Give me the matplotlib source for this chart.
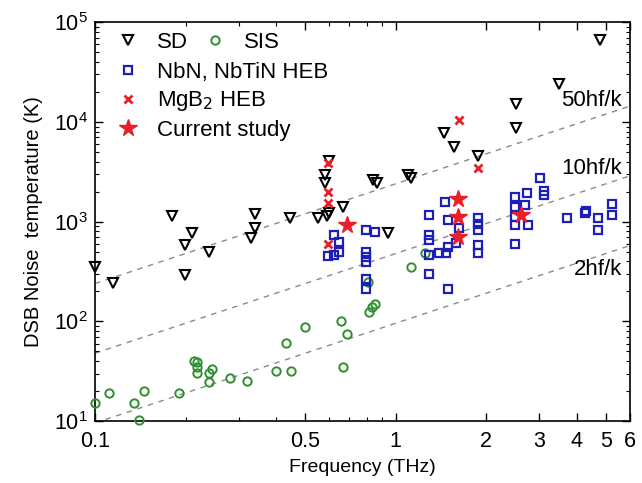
import numpy as np
import matplotlib.pyplot as plt
from matplotlib.lines import Line2D
from matplotlib.ticker import FixedLocator, NullFormatter, LogLocator

plt.rcParams['font.family'] = ['Liberation Sans', 'DejaVu Sans']

# SD
sd_f = [0.1, 0.115, 0.18, 0.199, 0.21, 0.199, 0.24, 0.34, 0.34, 0.329, 0.445, 0.552,
        0.589, 0.599, 0.666, 0.58, 0.58, 0.6, 0.94, 0.841, 0.867, 1.099, 1.12,
        1.447, 1.563, 1.88, 2.52, 2.52, 3.49, 4.76]
sd_t = [353, 244, 1138, 583, 774, 292, 499, 1191, 857, 690, 1079, 1079,
        1138, 1211, 1390, 2931, 2420, 4100, 770, 2612, 2450, 2931, 2716,
        7780, 5630, 4540, 15300, 8730, 23900, 66000]

# SIS
sis_f = [0.1, 0.111, 0.135, 0.146, 0.14, 0.19, 0.214, 0.219, 0.219, 0.219, 0.245, 0.24,
         0.24, 0.281, 0.319, 0.399, 0.45, 0.43, 0.499, 0.656, 0.686, 0.67, 0.851, 0.834,
         0.815, 0.809, 1.12, 1.25]
sis_t = [15.3, 19.3, 15.3, 20.2, 10.3, 19.3, 40, 39.5, 35, 30.2, 33.1, 30.2,
         24.9, 27.3, 25.3, 32.1, 32.1, 60.4, 87.3, 101, 74.8, 35, 149, 138,
         123, 250, 348, 490]

# NbN, NbTiN HEB
heb_f = [0.622, 0.647, 0.596, 0.622, 0.647, 0.795, 0.85, 0.795, 0.795, 0.795, 0.795, 0.795,
         1.29, 1.29, 1.29, 1.29, 1.29, 1.455, 1.49, 1.49, 1.39, 1.47, 1.49, 1.62, 1.58,
         1.87, 1.87, 1.87, 1.87, 1.87, 2.50, 2.50, 2.68, 2.73, 2.50, 2.50, 2.76, 2.50,
         3.01, 3.10, 3.10, 3.70, 4.25, 4.28, 4.70, 4.72, 5.25, 5.25]
heb_t = [734, 630, 452, 462, 499, 824, 790, 499, 445, 396, 264, 210,
         1170, 734, 655, 462, 298, 1580, 1040, 560, 481, 481, 210, 860, 605,
         1100, 950, 820, 583, 490, 1750, 1410, 1466, 1950, 1120, 930, 930, 600,
         2716, 2050, 1850, 1080, 1210, 1280, 1080, 820, 1490, 1160]

# MgB2 HEB
mgb_f = [0.596, 0.596, 0.596, 0.596, 1.62, 1.87]
mgb_t = [3860, 1980, 1525, 600, 10500, 3420]

# current study
cur_f = [0.686, 1.61, 1.61, 1.61, 2.60]
cur_t = [925, 1670, 1120, 707, 1160]

hf_k = 47.99  # K per THz
line_n = [50, 10, 2]

green = "#2f8f2f"
blue = "#1e1eb8"
red = "#e8202a"

fig = plt.figure(figsize=(6.42, 4.83), dpi=100)
ax = fig.add_axes([0.148, 0.128, 0.833, 0.826])

ff = np.array([0.1, 6])
for n in line_n:
    ax.plot(ff, n * hf_k * ff, ls=(0, (4, 4)), color="#8a8a8a", lw=1.0, zorder=1)

ax.plot(sd_f, sd_t, "v", mfc="none", mec="black", ms=7.5, mew=1.5, zorder=3, clip_on=False)
ax.plot(sis_f, sis_t, "o", mfc="none", mec=green, ms=6, mew=1.4, zorder=3, clip_on=False)
ax.plot(heb_f, heb_t, "s", mfc="none", mec=blue, ms=5.5, mew=1.6, zorder=3)
ax.plot(mgb_f, mgb_t, "x", color=red, ms=6, mew=2, zorder=4)
ax.plot(cur_f, cur_t, "*", color=red, ms=13, zorder=5)

ax.text(5.65, 16500, "50hf/k", fontsize=16, ha="right", va="center")
ax.text(5.65, 3400, "10hf/k", fontsize=16, ha="right", va="center")
ax.text(5.65, 330, "2hf/k", fontsize=16, ha="right", va="center")

ax.set_xscale("log")
ax.set_yscale("log")
ax.set_xlim(0.1, 6)
ax.set_ylim(10, 1e5)

xt = [0.1, 0.5, 1, 2, 3, 4, 5, 6]
ax.xaxis.set_major_locator(FixedLocator(xt))
ax.set_xticklabels([str(v) for v in xt])
ax.xaxis.set_minor_locator(LogLocator(base=10, subs=np.arange(1, 10) * 0.1, numticks=30))
ax.xaxis.set_minor_formatter(NullFormatter())
ax.tick_params(which="both", direction="in", top=True, right=True, labelsize=15.5)
ax.tick_params(which="major", length=6, width=1)
ax.tick_params(which="minor", length=3, width=0.8)
ax.tick_params(axis="y", pad=5)
ax.tick_params(axis="x", pad=7)
for s in ax.spines.values():
    s.set_linewidth(1.2)

ax.set_xlabel("Frequency (THz)", fontsize=14, labelpad=5)
ax.set_ylabel("DSB Noise  temperature (K)", fontsize=14.5, labelpad=8)

h1 = [Line2D([], [], ls="none", marker="v", mfc="none", mec="black", ms=7.5, mew=1.5),
      Line2D([], [], ls="none", marker="o", mfc="none", mec=green, ms=6, mew=1.4)]
leg1 = ax.legend(h1, ["SD", "SIS"], loc="upper left", ncol=2, frameon=False, fontsize=16,
                 bbox_to_anchor=(0.0, 1.015), handletextpad=0.5, columnspacing=0.4,
                 handlelength=1.6, borderaxespad=0.3)
ax.add_artist(leg1)
h2 = [Line2D([], [], ls="none", marker="s", mfc="none", mec=blue, ms=5.5, mew=1.6),
      Line2D([], [], ls="none", marker="x", color=red, ms=6, mew=2),
      Line2D([], [], ls="none", marker="*", color=red, ms=13)]
ax.legend(h2, ["NbN, NbTiN HEB", "MgB$_2$ HEB", "Current study"], loc="upper left",
          frameon=False, fontsize=16, bbox_to_anchor=(0.0, 0.94), handletextpad=0.5,
          handlelength=1.6, labelspacing=0.3, borderaxespad=0.3)

fig.savefig("out.png", dpi=100)
